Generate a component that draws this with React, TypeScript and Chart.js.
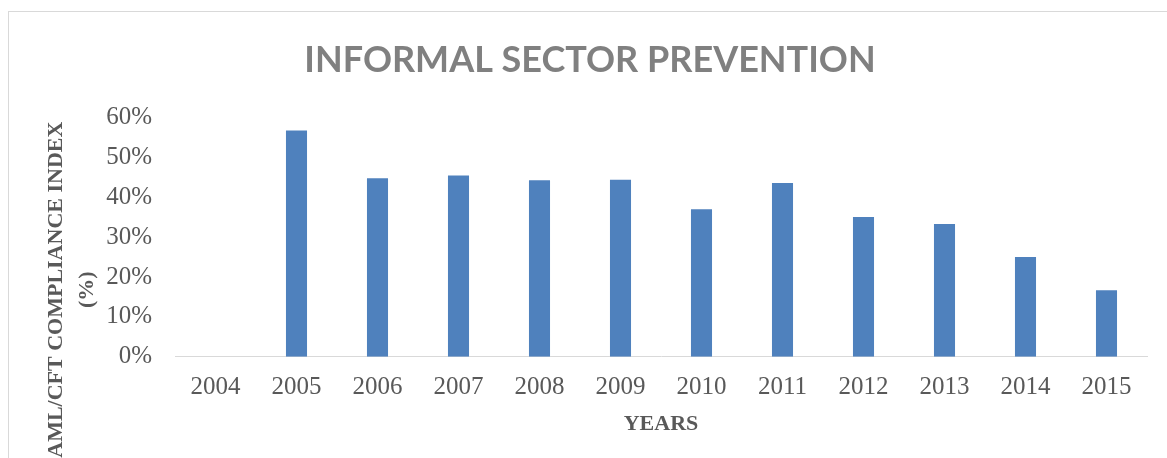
import React, { useEffect, useRef } from "react";
import { Chart, registerables } from "chart.js";

Chart.register(...registerables);

// ---- Data ----
const years = ["2004", "2005", "2006", "2007", "2008", "2009", "2010", "2011", "2012", "2013", "2014", "2015"];
const complianceIndex = [0, 56.8, 44.8, 45.5, 44.3, 44.4, 37.0, 43.6, 35.1, 33.3, 25.0, 16.7];
const yMin = 0;
const yMax = 60;
const yStep = 10;
const chartTitle = "INFORMAL SECTOR PREVENTION";
const xAxisTitle = "YEARS";
const yAxisTitleLines = ["AML/CFT COMPLIANCE INDEX", "(%)"];

const W = 1158;
const H = 446;

const yTitlePlugin = {
  id: "yTitleLines",
  afterDraw(chart: any) {
    const ctx = chart.ctx as CanvasRenderingContext2D;
    const area = chart.chartArea;
    ctx.save();
    ctx.fillStyle = "#595959";
    ctx.font = "bold 22px 'Liberation Serif'";
    ctx.textAlign = "center";
    ctx.textBaseline = "middle";
    const xs = [47.5, 78];
    const cy = area.bottom - 67;
    yAxisTitleLines.forEach((t, i) => {
      ctx.save();
      ctx.translate(xs[i], cy);
      ctx.rotate(-Math.PI / 2);
      ctx.fillText(t, 0, 0);
      ctx.restore();
    });
    ctx.restore();
  },
};

export default function App() {
  const ref = useRef<HTMLCanvasElement | null>(null);

  useEffect(() => {
    if (!ref.current) return;
    const chart = new Chart(ref.current, {
      type: "bar",
      data: {
        labels: years,
        datasets: [
          {
            label: "Compliance index",
            data: complianceIndex,
            backgroundColor: "#4f81bd",
            borderWidth: 0,
            categoryPercentage: 1,
            barPercentage: 0.26,
          },
        ],
      },
      options: {
        responsive: false,
        animation: false,
        layout: { padding: { left: 24, right: 20, top: 0, bottom: 0 } },
        plugins: {
          legend: { display: false },
          tooltip: { enabled: false },
          title: {
            display: true,
            text: chartTitle,
            color: "#808080",
            font: { family: "Lato", weight: "bold", size: 36 },
            padding: { top: 27, bottom: 35.5 },
          },
        },
        scales: {
          x: {
            grid: { display: false, drawTicks: false },
            border: { display: true, color: "#d9d9d9", width: 1 },
            ticks: {
              color: "#595959",
              font: { family: "Liberation Serif", size: 25 },
              padding: 16,
              maxRotation: 0,
              autoSkip: false,
            },
            title: {
              display: true,
              text: xAxisTitle,
              color: "#595959",
              font: { family: "Liberation Serif", weight: "bold", size: 22 },
              padding: { top: 7, bottom: 20 },
            },
            afterFit: (scale: any) => {
              scale.height = 101.3;
            },
          },
          y: {
            min: yMin,
            max: yMax,
            grid: { display: false, drawTicks: false },
            border: { display: false },
            ticks: {
              stepSize: yStep,
              color: "#595959",
              font: { family: "Liberation Serif", size: 25 },
              padding: 23,
              callback: (v: any) => `${v}%`,
            },
            afterFit: (scale: any) => {
              scale.width = 142;
            },
          },
        },
      },
      plugins: [yTitlePlugin],
    });
    return () => chart.destroy();
  }, []);

  return (
    <div
      style={{
        position: "absolute",
        left: 8,
        top: 11,
        width: W + 1,
        height: H + 1,
        boxSizing: "border-box",
        borderTop: "1px solid #d9d9d9",
        borderLeft: "1px solid #d9d9d9",
        background: "#fff",
      }}
    >
      <canvas ref={ref} width={W} height={H} style={{ display: "block", width: W, height: H }} />
    </div>
  );
}
